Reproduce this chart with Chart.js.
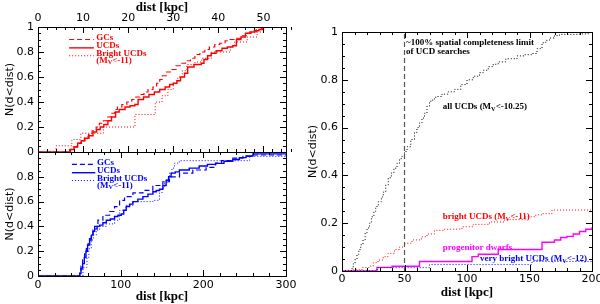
<!DOCTYPE html>
<html>
<head>
<meta charset="utf-8">
<script src="https://cdn.jsdelivr.net/npm/chart.js@4.4.1/dist/chart.umd.min.js"></script>
<style>
    html, body { margin: 0; padding: 0; background: #fff; }
    #cadre { position: relative; width: 600px; height: 304px; }
    #cadre canvas { position: absolute; left: 0; top: 0; pointer-events: none; }
</style>
</head>
<body>
<div id="cadre">
    <canvas id="chartHaut" width="600" height="304"></canvas>
    <canvas id="chartBas" width="600" height="304"></canvas>
    <canvas id="chartDroite" width="600" height="304"></canvas>
</div>
<script>
// ---- panneau haut gauche (dist 0-55 kpc) ----
const hautGCsX = [0, 7, 7.8, 8.6, 9.5, 10.3, 11.2, 12, 12.9, 13.6, 14.5, 15.3, 16.2, 17, 17.6, 18.6, 19.7, 20.8, 21.7, 22.6, 23.5, 24.4, 25.5, 26.3, 27, 27.6, 28.5, 29.5, 30.6, 31.6, 32.7, 33.8, 34.8, 35.9, 37, 38, 39.2, 40.3, 41.5, 42.6, 43.8, 45, 46.2, 47.3, 48.4, 49.5, 50.2, 55];
const hautGCsY = [0, 0.02, 0.04, 0.07, 0.09, 0.12, 0.14, 0.17, 0.2, 0.23, 0.25, 0.28, 0.31, 0.34, 0.36, 0.38, 0.4, 0.42, 0.44, 0.46, 0.48, 0.5, 0.52, 0.55, 0.58, 0.61, 0.64, 0.66, 0.69, 0.71, 0.73, 0.75, 0.78, 0.8, 0.82, 0.84, 0.86, 0.87, 0.89, 0.9, 0.91, 0.93, 0.95, 0.96, 0.98, 0.99, 1, 1];
const hautUCDsX = [0, 7.2, 8, 8.8, 9.6, 10.4, 11.3, 12.2, 13, 13.8, 14.6, 15.5, 16.3, 17.2, 18, 19.3, 20.4, 21.5, 22.2, 23.4, 24.6, 25.8, 27, 28.2, 29.2, 30, 30.8, 31.6, 32.5, 33.2, 34.6, 36.2, 36.8, 37.6, 38.4, 39.5, 40.8, 42, 43.2, 44, 45, 46, 47, 48, 49, 50, 55];
const hautUCDsY = [0, 0.02, 0.04, 0.07, 0.09, 0.11, 0.13, 0.16, 0.18, 0.2, 0.22, 0.25, 0.28, 0.32, 0.34, 0.36, 0.37, 0.38, 0.42, 0.44, 0.46, 0.48, 0.5, 0.52, 0.54, 0.55, 0.57, 0.6, 0.63, 0.68, 0.7, 0.71, 0.74, 0.77, 0.79, 0.81, 0.83, 0.84, 0.85, 0.9, 0.92, 0.95, 0.96, 0.97, 0.98, 1, 1];
const hautBrillX = [0, 4, 7.5, 9.5, 14.5, 21.5, 26, 27.5, 28.8, 30, 31, 32, 33, 34.8, 36.3, 38.5, 42.7, 43.6, 46.4, 48.6, 50, 55];
const hautBrillY = [0, 0.05, 0.1, 0.15, 0.2, 0.3, 0.4, 0.45, 0.5, 0.55, 0.6, 0.65, 0.7, 0.72, 0.75, 0.8, 0.85, 0.88, 0.92, 0.96, 1, 1];

// ---- panneau bas gauche (dist 0-300 kpc) ----
const basGCsX = [0, 50.3, 52, 54, 56.4, 58.5, 60.5, 62.4, 64.5, 66.5, 68.5, 72.5, 78.5, 86.6, 92.6, 98.7, 104.7, 114.8, 126.9, 138.9, 151, 159, 171.2, 187.3, 203.4, 214.7, 222, 235.6, 248, 259.8, 300];
const basGCsY = [0, 0.03, 0.08, 0.13, 0.18, 0.22, 0.26, 0.29, 0.33, 0.37, 0.4, 0.45, 0.49, 0.52, 0.56, 0.61, 0.64, 0.67, 0.69, 0.73, 0.76, 0.8, 0.83, 0.855, 0.876, 0.91, 0.93, 0.95, 0.965, 0.976, 0.976];
const basUCDsX = [0, 50.5, 52, 54, 56, 58, 60, 62.4, 64.5, 66.5, 68.5, 71.5, 74.5, 78.5, 82.6, 87.5, 92.6, 96.7, 100.7, 103.7, 106.7, 110.8, 114.8, 120.8, 126.9, 133, 139, 143, 147, 151, 155, 158, 161, 166, 171, 183, 195, 205, 215, 225, 235.6, 243.6, 251.7, 260, 300];
const basUCDsY = [0, 0.02, 0.06, 0.1, 0.15, 0.2, 0.25, 0.3, 0.33, 0.36, 0.38, 0.4, 0.41, 0.43, 0.45, 0.46, 0.48, 0.49, 0.5, 0.53, 0.56, 0.58, 0.6, 0.62, 0.64, 0.66, 0.68, 0.69, 0.7, 0.73, 0.77, 0.8, 0.83, 0.84, 0.855, 0.87, 0.887, 0.9, 0.908, 0.925, 0.94, 0.955, 0.968, 0.985, 0.985];
const basBrillX = [0, 54.4, 59.2, 61.5, 64.4, 67, 70.5, 74.5, 82.6, 92.6, 98.7, 106.7, 114.8, 139, 147, 150, 153, 156, 159, 162, 165, 171, 256, 300];
const basBrillY = [0, 0.07, 0.15, 0.22, 0.29, 0.33, 0.37, 0.4, 0.42, 0.45, 0.53, 0.57, 0.6, 0.61, 0.67, 0.71, 0.75, 0.79, 0.83, 0.87, 0.91, 0.93, 0.965, 0.965];

// ---- panneau droite (dist 0-200 kpc) ----
const tousX = [0, 7.5, 9, 10.5, 12, 13.5, 15, 16.8, 18.5, 20, 22, 23.5, 25.5, 27, 29, 31.5, 33, 35, 37, 39.5, 41.5, 44, 46, 48, 50, 52, 55, 58, 60, 62, 64, 66, 68, 70, 72.5, 75, 80, 85, 90, 95, 100, 105, 110, 113, 117, 121, 125, 131, 140, 146, 152, 156, 160, 163, 166, 170, 174, 180, 190, 197, 200];
const tousY = [0, 0.01, 0.03, 0.05, 0.07, 0.09, 0.11, 0.13, 0.16, 0.18, 0.2, 0.227, 0.25, 0.27, 0.29, 0.31, 0.33, 0.36, 0.39, 0.41, 0.43, 0.45, 0.47, 0.48, 0.5, 0.52, 0.55, 0.58, 0.6, 0.62, 0.64, 0.66, 0.69, 0.71, 0.72, 0.73, 0.74, 0.75, 0.76, 0.78, 0.8, 0.815, 0.83, 0.84, 0.855, 0.865, 0.875, 0.888, 0.9, 0.905, 0.91, 0.93, 0.955, 0.965, 0.975, 0.985, 0.99, 0.99, 0.992, 1, 1];
const brillantsX = [0, 7.5, 16, 21.6, 25, 28.8, 33, 36.8, 42, 46, 50, 56, 63.5, 68, 74, 82, 96, 105, 118, 130, 146.7, 155, 160, 168, 200];
const brillantsY = [0, 0.005, 0.015, 0.02, 0.035, 0.046, 0.06, 0.074, 0.09, 0.1, 0.116, 0.13, 0.143, 0.155, 0.17, 0.175, 0.185, 0.195, 0.205, 0.215, 0.227, 0.235, 0.24, 0.255, 0.255];
const progenX = [0, 28, 40, 62, 104, 109, 125, 160, 170, 175, 180, 185, 190, 195, 200];
const progenY = [0, 0.015, 0.02, 0.04, 0.06, 0.07, 0.09, 0.12, 0.13, 0.14, 0.145, 0.155, 0.165, 0.175, 0.183];
const tresBrillX = [0, 28, 70, 152, 200];
const tresBrillY = [0, 0.014, 0.027, 0.04, 0.04];
const limiteX = 50; // limite de complétude ~100%

const ROUGE = '#ff0000', BLEU = '#0000ff', MAGENTA = '#ff00ff';
const POLICE_TICKS = { family: 'DejaVu Sans', size: 11 };
const POLICE_TITRE_X = { family: 'Liberation Serif', size: 13, weight: 'bold', lineHeight: 1.1 };
const POLICE_TITRE_Y = { family: 'DejaVu Sans', size: 11 };
const TAILLE_NOTES = 9;

function points(xs, ys) {
    return xs.map((x, i) => ({ x: x, y: ys[i] }));
}

function courbe(xs, ys, couleur, style) {
    const d = {
        data: points(xs, ys),
        borderColor: couleur,
        borderWidth: 1.4,
        pointRadius: 0,
        stepped: true,
        fill: false
    };
    if (style === 'tirets') { d.borderDash = [5, 3]; d.borderWidth = 1.2; }
    if (style === 'points') { d.borderDash = [1, 2]; d.borderWidth = 1; }
    return d;
}

// texte avec indice (M_V)
function ecrire(ctx, texte, x, y, taille) {
    let cx = x;
    texte.split(/(_.)/).forEach(m => {
        if (!m) return;
        if (m[0] === '_') {
            ctx.font = 'bold ' + (taille * 0.7) + 'px "Liberation Serif"';
            ctx.fillText(m[1], cx, y + 2);
            cx += ctx.measureText(m[1]).width;
        } else {
            ctx.font = 'bold ' + taille + 'px "Liberation Serif"';
            ctx.fillText(m, cx, y);
            cx += ctx.measureText(m).width;
        }
    });
}

// cadre + graduations internes sur les 4 côtés
const pluginCadre = {
    id: 'cadre',
    afterDatasetsDraw(chart, args, opts) {
        const ctx = chart.ctx, a = chart.chartArea;
        const sx = chart.scales.x, sy = chart.scales.y;
        ctx.save();
        ctx.strokeStyle = '#000';
        ctx.lineWidth = 1;
        ctx.strokeRect(Math.round(a.left) + 0.5, Math.round(a.top) + 0.5,
            Math.round(a.right - a.left), Math.round(a.bottom - a.top));
        ctx.beginPath();
        const n = Math.round((sx.max - sx.min) / opts.xMin);
        for (let i = 0; i <= n; i++) {
            const v = sx.min + i * opts.xMin;
            const px = Math.round(sx.getPixelForValue(v)) + 0.5;
            const l = Math.abs(v / opts.xMaj - Math.round(v / opts.xMaj)) < 1e-6 ? 6 : 3;
            ctx.moveTo(px, a.top); ctx.lineTo(px, a.top + l);
            ctx.moveTo(px, a.bottom); ctx.lineTo(px, a.bottom - l);
        }
        const m = Math.round((sy.max - sy.min) / opts.yMin);
        for (let i = 0; i <= m; i++) {
            const v = sy.min + i * opts.yMin;
            const py = Math.round(sy.getPixelForValue(v)) + 0.5;
            const l = Math.abs(v / opts.yMaj - Math.round(v / opts.yMaj)) < 1e-6 ? 6 : 3;
            ctx.moveTo(a.left, py); ctx.lineTo(a.left + l, py);
            ctx.moveTo(a.right, py); ctx.lineTo(a.right - l, py);
        }
        ctx.stroke();

        // légendes et annotations, placées en coordonnées de données
        (opts.notes || []).forEach(n => {
            ctx.fillStyle = n.couleur;
            ctx.textBaseline = 'middle';
            if (n.trait) {
                ctx.beginPath();
                ctx.strokeStyle = n.couleur;
                ctx.lineWidth = n.trait.largeur;
                ctx.setLineDash(n.trait.dash);
                const ty = sy.getPixelForValue(n.trait.y);
                ctx.moveTo(sx.getPixelForValue(n.trait.x1), ty);
                ctx.lineTo(sx.getPixelForValue(n.trait.x2), ty);
                ctx.stroke();
                ctx.setLineDash([]);
            }
            ecrire(ctx, n.texte, sx.getPixelForValue(n.x), sy.getPixelForValue(n.y), TAILLE_NOTES);
        });
        ctx.restore();
    }
};

function fixer(largeur, hauteur) {
    return function (scale) {
        if (largeur !== null) scale.width = largeur;
        if (hauteur !== null) scale.height = hauteur;
        scale.paddingLeft = scale.paddingRight = scale.paddingTop = scale.paddingBottom = 0;
    };
}

function echelleY(largeur, padTitre, cacherUn) {
    return {
        min: 0, max: 1,
        grid: { display: false, drawTicks: false },
        border: { display: false },
        ticks: {
            stepSize: 0.2, color: '#000', font: POLICE_TICKS, padding: 4,
            callback: v => (cacherUn && v === 1) ? '' : String(Math.round(v * 10) / 10)
        },
        title: { display: true, text: 'N(d<dist)', color: '#000', font: POLICE_TITRE_Y, padding: { top: padTitre, bottom: 0 } },
        afterFit: fixer(largeur, null)
    };
}

function echelleX(max, pas, position, hauteur, padTicks) {
    return {
        type: 'linear', position: position, min: 0, max: max,
        grid: { display: false, drawTicks: false },
        border: { display: false },
        ticks: { stepSize: pas, includeBounds: false, maxRotation: 0, color: '#000', font: POLICE_TICKS, padding: padTicks },
        title: { display: true, text: 'dist [kpc]', color: '#000', font: POLICE_TITRE_X, padding: 0 },
        afterFit: fixer(null, hauteur)
    };
}

function legendeGauche(couleur, x1, x2, xt) {
    return [
        { texte: 'GCs', x: xt, y: 0.915, couleur: couleur, trait: { x1: x1, x2: x2, y: 0.9, dash: [5, 3], largeur: 1.2 } },
        { texte: 'UCDs', x: xt, y: 0.847, couleur: couleur, trait: { x1: x1, x2: x2, y: 0.833, dash: [], largeur: 1.4 } },
        { texte: 'Bright UCDs', x: xt, y: 0.787, couleur: couleur, trait: { x1: x1, x2: x2, y: 0.77, dash: [1, 2], largeur: 1 } },
        { texte: '(M_V<-11)', x: xt, y: 0.73, couleur: couleur }
    ];
}

function options(padding, echelles, cadre) {
    return {
        responsive: false,
        animation: false,
        devicePixelRatio: 1,
        layout: { padding: padding },
        plugins: { legend: { display: false }, tooltip: { enabled: false }, cadre: cadre },
        scales: echelles
    };
}

function creerGraphiques() {
    new Chart(document.getElementById('chartHaut'), {
        type: 'line',
        data: {
            datasets: [
                courbe(hautBrillX, hautBrillY, ROUGE, 'points'),
                courbe(hautGCsX, hautGCsY, ROUGE, 'tirets'),
                courbe(hautUCDsX, hautUCDsY, ROUGE, 'plein')
            ]
        },
        options: options({ left: 0, top: 0, right: 314, bottom: 152 },
            { x: echelleX(55, 10, 'top', 27, 2), y: echelleY(38, 4, false) },
            { xMin: 2, xMaj: 10, yMin: 0.05, yMaj: 0.2, notes: legendeGauche(ROUGE, 6.9, 12.4, 12.9) }),
        plugins: [pluginCadre]
    });

    new Chart(document.getElementById('chartBas'), {
        type: 'line',
        data: {
            datasets: [
                courbe(basBrillX, basBrillY, BLEU, 'points'),
                courbe(basGCsX, basGCsY, BLEU, 'tirets'),
                courbe(basUCDsX, basUCDsY, BLEU, 'plein')
            ]
        },
        options: options({ left: 0, top: 152, right: 314, bottom: 0 },
            { x: echelleX(300, 100, 'bottom', 28, 3), y: echelleY(38, 4, true) },
            { xMin: 20, xMaj: 100, yMin: 0.05, yMaj: 0.2, notes: legendeGauche(BLEU, 41, 69.3, 71.4) }),
        plugins: [pluginCadre]
    });

    new Chart(document.getElementById('chartDroite'), {
        type: 'line',
        data: {
            datasets: [
                {
                    data: [{ x: limiteX, y: 0 }, { x: limiteX, y: 1 }],
                    borderColor: '#555', borderWidth: 1.2, borderDash: [5, 3], pointRadius: 0
                },
                courbe(tousX, tousY, '#000', 'points'),
                courbe(brillantsX, brillantsY, ROUGE, 'points'),
                courbe(tresBrillX, tresBrillY, BLEU, 'points'),
                courbe(progenX, progenY, MAGENTA, 'plein')
            ]
        },
        options: options({ left: 300, top: 32, right: 8, bottom: 4 },
            { x: echelleX(200, 50, 'bottom', 29, 2), y: echelleY(42, 7, false) },
            {
                xMin: 10, xMaj: 50, yMin: 0.05, yMaj: 0.2, notes: [
                    { texte: '~100% spatial completeness limit', x: 51.2, y: 0.954, couleur: '#000' },
                    { texte: 'of UCD searches', x: 51.2, y: 0.918, couleur: '#000' },
                    { texte: 'all UCDs (M_V<-10.25)', x: 80.5, y: 0.686, couleur: '#000' },
                    { texte: 'bright UCDs (M_V<-11)', x: 80.5, y: 0.226, couleur: ROUGE },
                    { texte: 'progenitor dwarfs', x: 80.5, y: 0.096, couleur: MAGENTA },
                    { texte: 'very bright UCDs (M_V<-12)', x: 110.4, y: 0.05, couleur: BLEU }
                ]
            }),
        plugins: [pluginCadre]
    });
}

creerGraphiques();
</script>
</body>
</html>
